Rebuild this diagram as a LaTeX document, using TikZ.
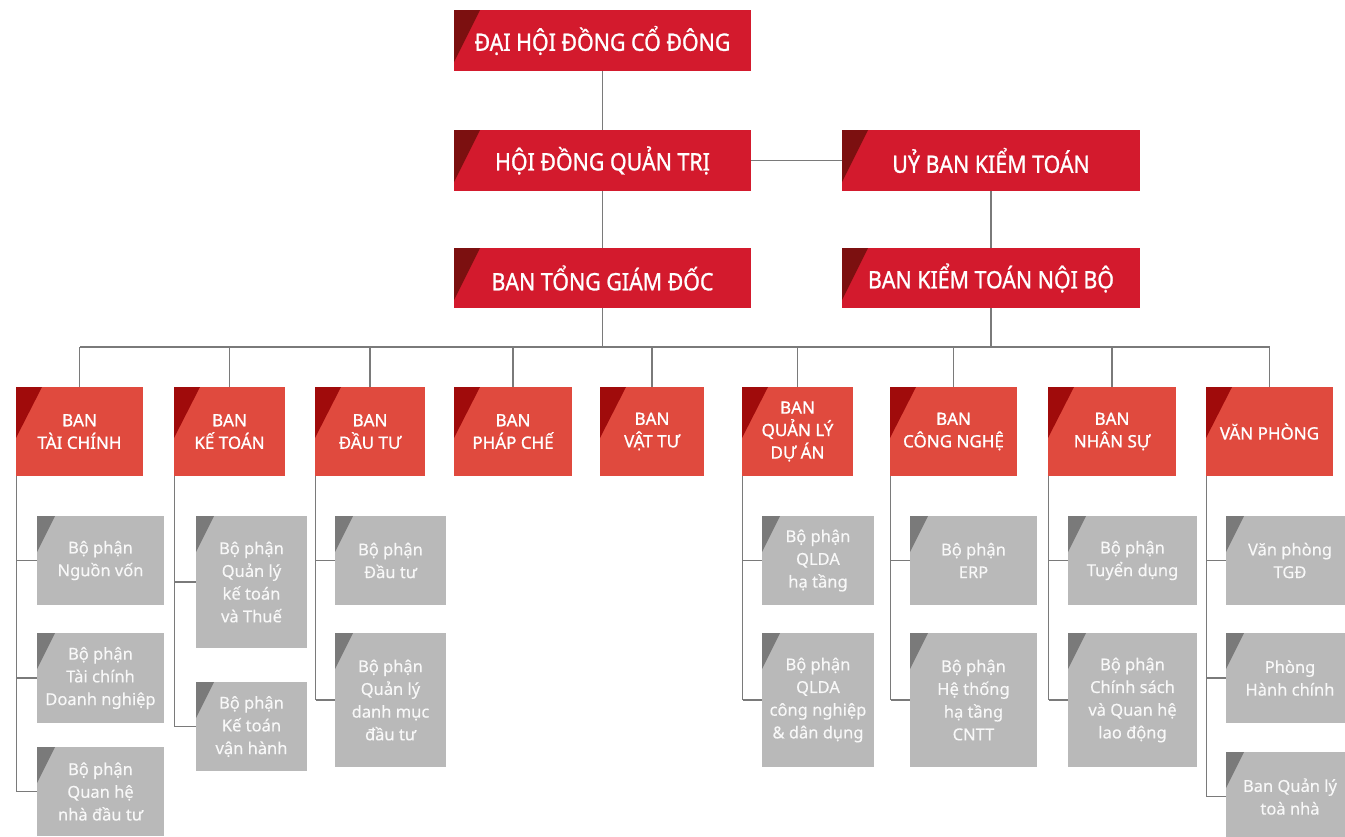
\documentclass[tikz,border=0pt]{standalone}
\usepackage{fontspec}
\setmainfont{Noto Sans}
\newfontfamily\titlefont{Noto Sans}[FakeStretch=0.89, FakeBold=1.0]
\newfontfamily\deptfont{Noto Sans}[FakeBold=0.9]
\newfontfamily\subfont{Noto Sans}[FakeBold=0.3]
\definecolor{topred}{HTML}{D31A2D}
\definecolor{toptri}{HTML}{7C1010}
\definecolor{deptred}{HTML}{E04A3E}
\definecolor{depttri}{HTML}{A00B0B}
\definecolor{subgrey}{HTML}{B9B9B9}
\definecolor{subtri}{HTML}{7A7A7A}
\definecolor{linegrey}{HTML}{7A7A7A}
\definecolor{subtext}{HTML}{F8F8F8}
\tikzset{
  topbox/.style={fill=topred, text=white, inner sep=0pt, align=center,
    font=\titlefont\fontsize{24}{28}\selectfont,
    path picture={\fill[toptri] (path picture bounding box.north west) -- ++(26pt,0pt) -- ++(-26pt,-52pt) -- cycle;}},
  deptbox/.style={fill=deptred, text=white, inner sep=0pt, align=center,
    font=\deptfont\fontsize{17}{22.5}\selectfont,
    path picture={\fill[depttri] (path picture bounding box.north west) -- ++(26pt,0pt) -- ++(-26pt,-51pt) -- cycle;}},
  subbox/.style={fill=subgrey, text=subtext, inner sep=0pt, align=center,
    font=\subfont\fontsize{16.5}{22.7}\selectfont,
    path picture={\fill[subtri] (path picture bounding box.north west) -- ++(18pt,0pt) -- ++(-18pt,-36pt) -- cycle;}},
  conn/.style={draw=linegrey, line width=1.3pt}
}
\newcommand\OrgBox[7]{\node[#2, minimum width={(#5-#3)*1pt}, minimum height={(#6-#4)*1pt}] (#1) at ({(#3+#5)/2},{(#4+#6)/2}) {#7};}
\begin{document}
\begin{tikzpicture}[x=1pt, y=-1pt]
\clip (0,0) rectangle (1345,836);
\fill[white] (0,0) rectangle (1345,836);
% top level
\OrgBox{dhd}{topbox}{454}{10}{751}{71}{ĐẠI HỘI ĐỒNG CỔ ĐÔNG}
\OrgBox{hdqt}{topbox}{454}{130}{751}{191}{HỘI ĐỒNG QUẢN TRỊ}
\OrgBox{ubkt}{topbox}{842}{130}{1140}{191}{UỶ BAN KIỂM TOÁN}
\OrgBox{btgd}{topbox}{454}{248}{751}{308}{BAN TỔNG GIÁM ĐỐC}
\OrgBox{bktnb}{topbox}{842}{248}{1140}{308}{BAN KIỂM TOÁN NỘI BỘ}
% departments
\OrgBox{tc}{deptbox}{16}{387}{143}{476}{BAN\\TÀI CHÍNH}
\OrgBox{kt}{deptbox}{174}{387}{285}{476}{BAN\\KẾ TOÁN}
\OrgBox{dt}{deptbox}{315}{387}{425}{476}{BAN\\ĐẦU TƯ}
\OrgBox{pc}{deptbox}{454}{387}{572}{476}{BAN\\PHÁP CHẾ}
\OrgBox{vt}{deptbox}{600}{387}{704}{476}{BAN\\VẬT TƯ}
\OrgBox{qlda}{deptbox}{742}{387}{853}{476}{BAN\\QUẢN LÝ\\DỰ ÁN}
\OrgBox{cn}{deptbox}{890}{387}{1017}{476}{BAN\\CÔNG NGHỆ}
\OrgBox{ns}{deptbox}{1048}{387}{1176}{476}{BAN\\NHÂN SỰ}
\OrgBox{vp}{deptbox}{1206}{387}{1333}{476}{VĂN PHÒNG}
% sub units
\OrgBox{tc1}{subbox}{37}{516}{164}{605}{Bộ phận\\Nguồn vốn}
\OrgBox{tc2}{subbox}{37}{633}{164}{723}{Bộ phận\\Tài chính\\Doanh nghiệp}
\OrgBox{tc3}{subbox}{37}{747}{164}{836}{Bộ phận\\Quan hệ\\nhà đầu tư}
\OrgBox{kt1}{subbox}{196}{516}{307}{648}{Bộ phận\\Quản lý\\kế toán\\và Thuế}
\OrgBox{kt2}{subbox}{196}{682}{307}{771}{Bộ phận\\Kế toán\\vận hành}
\OrgBox{dt1}{subbox}{335}{516}{446}{605}{Bộ phận\\Đầu tư}
\OrgBox{dt2}{subbox}{335}{633}{446}{767}{Bộ phận\\Quản lý\\danh mục\\đầu tư}
\OrgBox{qlda1}{subbox}{762}{516}{874}{605}{Bộ phận\\QLDA\\hạ tầng}
\OrgBox{qlda2}{subbox}{762}{633}{874}{767}{Bộ phận\\QLDA\\công nghiệp\\\& dân dụng}
\OrgBox{cn1}{subbox}{910}{516}{1037}{605}{Bộ phận\\ERP}
\OrgBox{cn2}{subbox}{910}{633}{1037}{767}{Bộ phận\\Hệ thống\\hạ tầng\\CNTT}
\OrgBox{ns1}{subbox}{1068}{516}{1197}{605}{Bộ phận\\Tuyển dụng}
\OrgBox{ns2}{subbox}{1068}{633}{1197}{767}{Bộ phận\\Chính sách\\và Quan hệ\\lao động}
\OrgBox{vp1}{subbox}{1226}{516}{1354}{605}{Văn phòng\\TGĐ}
\OrgBox{vp2}{subbox}{1226}{633}{1354}{723}{Phòng\\Hành chính}
\OrgBox{vp3}{subbox}{1226}{752}{1354}{841}{Ban Quản lý\\toà nhà}
% top connectors
\draw[conn] (dhd.south) -- (hdqt.north);
\draw[conn] (hdqt.east) -- (ubkt.west);
\draw[conn] (hdqt.south) -- (btgd.north);
\draw[conn] (ubkt.south) -- (bktnb.north);
% bus
\coordinate (busL) at (80,347);
\coordinate (busR) at (1270,347);
\draw[conn] (busL) -- (busR);
\draw[conn] (btgd.south) -- (btgd.south |- busL);
\draw[conn] (bktnb.south) -- (bktnb.south |- busL);
\foreach \d in {tc,kt,dt,pc,vt,qlda,cn,ns,vp}{
  \draw[conn] (\d.north) -- (\d.north |- busL);
}
% spines
\foreach \d/\last/\kids in {tc/tc3/{tc1,tc2,tc3}, kt/kt2/{kt1,kt2}, dt/dt2/{dt1,dt2}, qlda/qlda2/{qlda1,qlda2}, cn/cn2/{cn1,cn2}, ns/ns2/{ns1,ns2}, vp/vp3/{vp1,vp2,vp3}}{
  \coordinate (\d s) at ([xshift=1pt]\d.south west);
  \draw[conn] (\d s) -- (\d s |- \last.west);
  \foreach \k in \kids { \draw[conn] (\d s |- \k.west) -- (\k.west); }
}
\end{tikzpicture}
\end{document}
